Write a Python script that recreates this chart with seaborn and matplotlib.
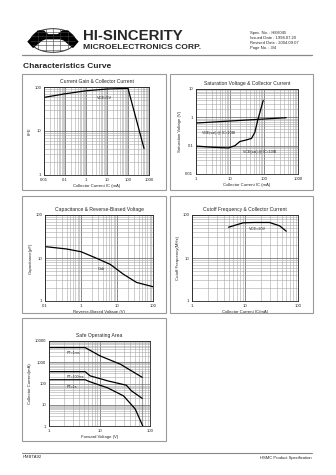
import numpy as np
import pandas as pd
import matplotlib
matplotlib.use("Agg")
import matplotlib.pyplot as plt
import seaborn as sns
from matplotlib.patches import Rectangle, Ellipse, Polygon
from matplotlib.ticker import FixedLocator, NullFormatter, LogLocator

sns.set_style("white")
plt.rcParams['font.family'] = ['Liberation Sans', 'DejaVu Sans']

# ---------------- data ----------------
# Current gain vs collector current
hfe_ic = [0.01, 0.1, 1, 10, 100, 580]
hfe_val = [58, 70, 82, 90, 93, 4]

# Saturation voltages
vce_ic = [1, 3, 8.9, 14, 19.5, 30.6, 42.8, 53.5, 66.5, 80, 95]
vce_val = [0.097, 0.088, 0.083, 0.1, 0.14, 0.16, 0.18, 0.29, 0.85, 1.9, 4.0]
vbe_ic = [1, 450]
vbe_val = [0.63, 0.97]

# Capacitance vs reverse voltage
cob_v = [0.1, 0.4, 1, 2.75, 6.5, 15, 35, 100]
cob_val = [18.4, 16.2, 14, 9.8, 7.1, 4.2, 2.7, 2.15]

# Cutoff frequency vs collector current
ft_ic = [4.9, 9.3, 15, 29, 45, 60]
ft_val = [52, 66, 67, 67, 56, 42]

# Safe operating area
soa1ms_v = [1, 5.2, 10.3, 25.9, 70, 70]
soa1ms_i = [4900, 4900, 1980, 810, 390, 1]
soa100_v = [1, 5.2, 6.5, 14.6, 34, 43, 70]
soa100_i = [360, 360, 230, 133, 83, 45, 20]
soa1s_v = [1, 5.2, 6.5, 14.6, 30, 51, 72]
soa1s_i = [150, 150, 120, 62, 26, 6.3, 1]

W, H = 336, 475
fig = plt.figure(figsize=(W / 100, H / 100), dpi=100)
fig.patch.set_facecolor("white")


def fx(x):
    return x / W


def fy(y):
    return 1 - y / H


def px_axes(x0, y0, x1, y1):
    return fig.add_axes([x0 / W, 1 - y1 / H, (x1 - x0) / W, (y1 - y0) / H])


def box(x0, y0, x1, y1):
    fig.patches.append(Rectangle((fx(x0), fy(y1)), (x1 - x0) / W, (y1 - y0) / H,
                                 transform=fig.transFigure, fill=False,
                                 edgecolor="#9a9a9a", lw=0.8))


FS = 3.1


def setup(ax, xlim, ylim, xticks, yticks, title, xlabel, ylabel):
    ax.set_xscale("log")
    ax.set_yscale("log")
    ax.set_xlim(*xlim)
    ax.set_ylim(*ylim)
    ax.xaxis.set_major_locator(FixedLocator(xticks))
    ax.yaxis.set_major_locator(FixedLocator(yticks))
    ax.set_xticklabels([("%g" % t) for t in xticks], fontsize=FS)
    ax.set_yticklabels([("%g" % t) for t in yticks], fontsize=FS)
    ax.xaxis.set_minor_locator(LogLocator(base=10, subs=np.arange(2, 10), numticks=200))
    ax.yaxis.set_minor_locator(LogLocator(base=10, subs=np.arange(2, 10), numticks=200))
    ax.xaxis.set_minor_formatter(NullFormatter())
    ax.yaxis.set_minor_formatter(NullFormatter())
    ax.tick_params(which="both", length=0, pad=2)
    ax.grid(True, which="major", color="#6a6a6a", lw=0.55)
    ax.grid(True, which="minor", color="#a8a8a8", lw=0.4)
    for s in ax.spines.values():
        s.set_color("#222222")
        s.set_linewidth(0.6)
    ax.set_title(title, fontsize=3.6, pad=3)
    ax.set_xlabel(xlabel, fontsize=FS, labelpad=1.5)
    ax.set_ylabel(ylabel, fontsize=FS, labelpad=2)
    ax.set_facecolor("white")
    ax.set_axisbelow(True)


LW = 0.9

# ---------------- header ----------------
# logo
lax = fig.add_axes([fx(27), fy(54), 52 / W, 27 / H])
lax.set_xlim(-1.05, 1.05)
lax.set_ylim(-0.6, 0.6)
lax.axis("off")
ell = Ellipse((0, 0), 1.8, 1.05, fill=False, edgecolor="#333333", lw=0.7)
lax.add_patch(ell)
clip = Ellipse((0, 0), 1.8, 1.05, transform=lax.transData)
for yy in np.linspace(-0.4, 0.4, 5):
    l, = lax.plot([-1, 1], [yy, yy], color="#444444", lw=0.4)
    l.set_clip_path(clip)
for xx in np.linspace(-0.6, 0.6, 5):
    l, = lax.plot([xx, xx], [-0.6, 0.6], color="#444444", lw=0.4)
    l.set_clip_path(clip)
shape = [(-1.0, -0.05), (-0.6, 0.42), (-0.38, 0.42), (-0.2, 0.25), (0.2, 0.25),
         (0.38, 0.42), (0.6, 0.42), (1.0, -0.05), (0.8, -0.3), (0.45, 0.02),
         (0.3, 0.08), (-0.3, 0.08), (-0.45, 0.02), (-0.8, -0.3)]
lax.add_patch(Polygon(shape, closed=True, color="black"))

fig.text(fx(83), fy(36), "HI-SINCERITY", fontsize=10.8, fontweight="bold",
         va="center", ha="left")
fig.text(fx(83), fy(47.5), "MICROELECTRONICS CORP.", fontsize=6.1, fontweight="bold",
         va="center", ha="left")
spec = ["Spec. No. : HE6045", "Issued Date : 1994.07.20",
        "Revised Date : 2004.09.07", "Page No. : 3/4"]
for i, s in enumerate(spec):
    fig.text(fx(250), fy(33 + i * 5), s, fontsize=3.0, va="center", ha="left")
fig.lines.append(plt.Line2D([fx(22), fx(312)], [fy(55), fy(55)],
                            transform=fig.transFigure, color="#888888", lw=0.9))
fig.text(fx(23), fy(66), "Characteristics Curve", fontsize=6.0, fontweight="bold",
         va="center", ha="left")

# panel boxes
box(22, 74, 166, 190)
box(170, 74, 313, 190)
box(22, 196, 166, 313)
box(170, 196, 313, 313)
box(22, 318, 166, 441)

# ---------------- panel 1 ----------------
ax1 = px_axes(44, 87, 149, 175)
sns.lineplot(x=hfe_ic, y=hfe_val, ax=ax1, color="black", lw=LW, sort=False)
setup(ax1, (0.01, 1000), (1, 100), [0.01, 0.1, 1, 10, 100, 1000], [1, 10, 100],
      "Current Gain & Collector Current", "Collector Current IC (mA)", "hFE")
ax1.text(0.5, 0.86, "VCE=5V", transform=ax1.transAxes, fontsize=2.8)

# ---------------- panel 2 ----------------
ax2 = px_axes(196, 89, 298, 174)
sns.lineplot(x=vce_ic, y=vce_val, ax=ax2, color="black", lw=LW, sort=False)
sns.lineplot(x=vbe_ic, y=vbe_val, ax=ax2, color="black", lw=LW, sort=False)
setup(ax2, (1, 1000), (0.01, 10), [1, 10, 100, 1000], [0.01, 0.1, 1, 10],
      "Saturation Voltage & Collector Current", "Collector Current IC (mA)",
      "Saturation Voltage (V)")
ax2.text(0.06, 0.47, "VBE(sat) @ IC=10IB", transform=ax2.transAxes, fontsize=2.6)
ax2.text(0.46, 0.25, "VCE(sat) @ IC=10IB", transform=ax2.transAxes, fontsize=2.6)

# ---------------- panel 3 ----------------
ax3 = px_axes(45, 215, 153, 301)
sns.lineplot(x=cob_v, y=cob_val, ax=ax3, color="black", lw=LW, sort=False)
setup(ax3, (0.1, 100), (1, 100), [0.1, 1, 10, 100], [1, 10, 100],
      "Capacitance & Reverse-Biased Voltage", "Reverse-Biased Voltage (V)",
      "Capacitance(pF)")
ax3.text(0.49, 0.36, "Cob", transform=ax3.transAxes, fontsize=2.8)

# ---------------- panel 4 ----------------
ax4 = px_axes(192, 215, 298, 301)
sns.lineplot(x=ft_ic, y=ft_val, ax=ax4, color="black", lw=LW, sort=False)
setup(ax4, (1, 100), (1, 100), [1, 10, 100], [1, 10, 100],
      "Cutoff Frequency & Collector Current", "Collector Current IC(mA)",
      "Cutoff Frequency(MHz)")
ax4.text(0.54, 0.83, "VCE=20V", transform=ax4.transAxes, fontsize=2.8)

# ---------------- panel 5 ----------------
ax5 = px_axes(49, 341, 150, 426)
sns.lineplot(x=soa1ms_v, y=soa1ms_i, ax=ax5, color="black", lw=LW, sort=False)
sns.lineplot(x=soa100_v, y=soa100_i, ax=ax5, color="black", lw=LW, sort=False)
sns.lineplot(x=soa1s_v, y=soa1s_i, ax=ax5, color="black", lw=LW, sort=False)
setup(ax5, (1, 100), (1, 10000), [1, 10, 100], [1, 10, 100, 1000, 10000],
      "Safe Operating Area", "Forward Voltage (V)", "Collector Current(mA)")
ax5.text(0.18, 0.85, "PT=1ms", transform=ax5.transAxes, fontsize=2.6)
ax5.text(0.18, 0.57, "PT=100ms", transform=ax5.transAxes, fontsize=2.6)
ax5.text(0.18, 0.45, "PT=1s", transform=ax5.transAxes, fontsize=2.6)

# ---------------- footer ----------------
fig.lines.append(plt.Line2D([fx(22), fx(312)], [fy(453), fy(453)],
                            transform=fig.transFigure, color="#888888", lw=0.8))
fig.text(fx(23), fy(457.5), "HMBTA92", fontsize=3.0, va="center", ha="left")
fig.text(fx(312), fy(457.5), "HSMC Product Specification", fontsize=3.0,
         va="center", ha="right")

fig.savefig("out.png", dpi=100, facecolor="white")
